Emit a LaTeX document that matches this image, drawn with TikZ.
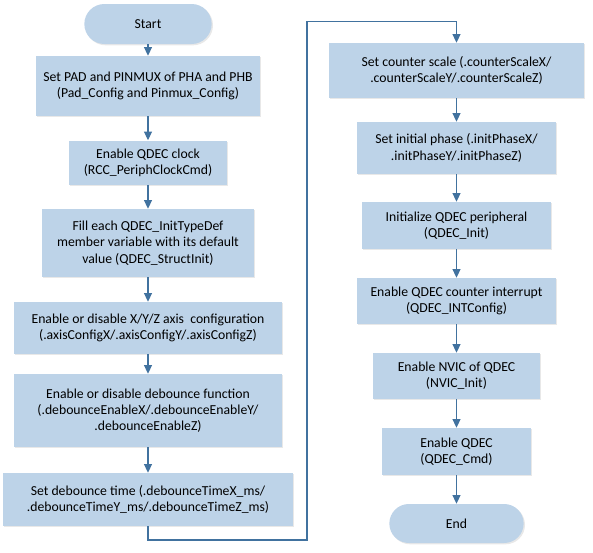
\documentclass[tikz,border=0pt]{standalone}
\usepackage{fontspec}
\setmainfont{Carlito}
\usetikzlibrary{arrows.meta,shadows,shapes.misc}
\definecolor{boxfill}{HTML}{BDD3E8}
\definecolor{linec}{HTML}{41729F}
\begin{document}
\begin{tikzpicture}[x=0.75pt,y=-0.75pt,
  font=\fontsize{10.3pt}{12.2pt}\selectfont,
  stepbox/.style 2 args={rectangle, fill=boxfill, draw=none, align=center,
    minimum width={#1*0.75pt}, minimum height={#2*0.75pt}, inner sep=1pt,
    drop shadow={shadow xshift=1pt, shadow yshift=-1pt, opacity=0.18}},
  termbox/.style 2 args={rounded rectangle, fill=boxfill, draw=none,
    minimum width={#1*0.75pt}, minimum height={#2*0.75pt}, inner sep=1pt,
    drop shadow={shadow xshift=1pt, shadow yshift=-1pt, opacity=0.18}},
  arr/.style={draw=linec, line width=0.8pt, -{Triangle[length=6.5pt,width=6pt]}}]
\useasboundingbox (0,0) rectangle (593,553);
% left column
\node[termbox={130}{40}] (start) at (148,24) {Start};
\node[stepbox={224}{60}] (b1) at (148,86) {Set PAD and PINMUX of PHA and PHB\\(Pad\_Config and Pinmux\_Config)};
\node[stepbox={158}{44}] (b2) at (148,162.5) {Enable QDEC clock\\(RCC\_PeriphClockCmd)};
\node[stepbox={212}{68}] (b3) at (148,243) {Fill each QDEC\_InitTypeDef\\member variable with its default\\value (QDEC\_StructInit)};
\node[stepbox={268}{52}] (b4) at (148,328) {Enable or disable X/Y/Z axis~ configuration\\(.axisConfigX/.axisConfigY/.axisConfigZ)};
\node[stepbox={268}{73}] (b5) at (148,410.5) {Enable or disable debounce function\\(.debounceEnableX/.debounceEnableY/\\.debounceEnableZ)};
\node[stepbox={290}{53}] (b6) at (148,499.5) {Set debounce time (.debounceTimeX\_ms/\\.debounceTimeY\_ms/.debounceTimeZ\_ms)};
% right column
\node[stepbox={255}{55}] (c1) at (456.5,70.5) {Set counter scale (.counterScaleX/\\.counterScaleY/.counterScaleZ)};
\node[stepbox={199}{52}] (c2) at (456.5,148) {Set initial phase (.initPhaseX/\\.initPhaseY/.initPhaseZ)};
\node[stepbox={189}{47}] (c3) at (456.5,225.5) {Initialize QDEC peripheral\\(QDEC\_Init)};
\node[stepbox={199}{46}] (c4) at (456.5,301) {Enable QDEC counter interrupt\\(QDEC\_INTConfig)};
\node[stepbox={167}{46}] (c5) at (456.5,376) {Enable NVIC of QDEC\\(NVIC\_Init)};
\node[stepbox={149}{47}] (c6) at (456.5,451.5) {Enable QDEC\\(QDEC\_Cmd)};
\node[termbox={137}{39}] (end) at (456.5,523.5) {End};
% connectors
\draw[arr] (start.south) -- (b1.north);
\draw[arr] (b1.south) -- (b2.north);
\draw[arr] (b2.south) -- (b3.north);
\draw[arr] (b3.south) -- (b4.north);
\draw[arr] (b4.south) -- (b5.north);
\draw[arr] (b5.south) -- (b6.north);
\coordinate (k1) at (148,540);
\coordinate (k2) at (307,540);
\coordinate (k3) at (307,21.5);
\coordinate (k4) at (456.5,21.5);
\draw[arr] (b6.south) -- (k1) -- (k2) -- (k3) -- (k4) -- (c1.north);
\draw[arr] (c1.south) -- (c2.north);
\draw[arr] (c2.south) -- (c3.north);
\draw[arr] (c3.south) -- (c4.north);
\draw[arr] (c4.south) -- (c5.north);
\draw[arr] (c5.south) -- (c6.north);
\draw[arr] (c6.south) -- (end.north);
\end{tikzpicture}
\end{document}
